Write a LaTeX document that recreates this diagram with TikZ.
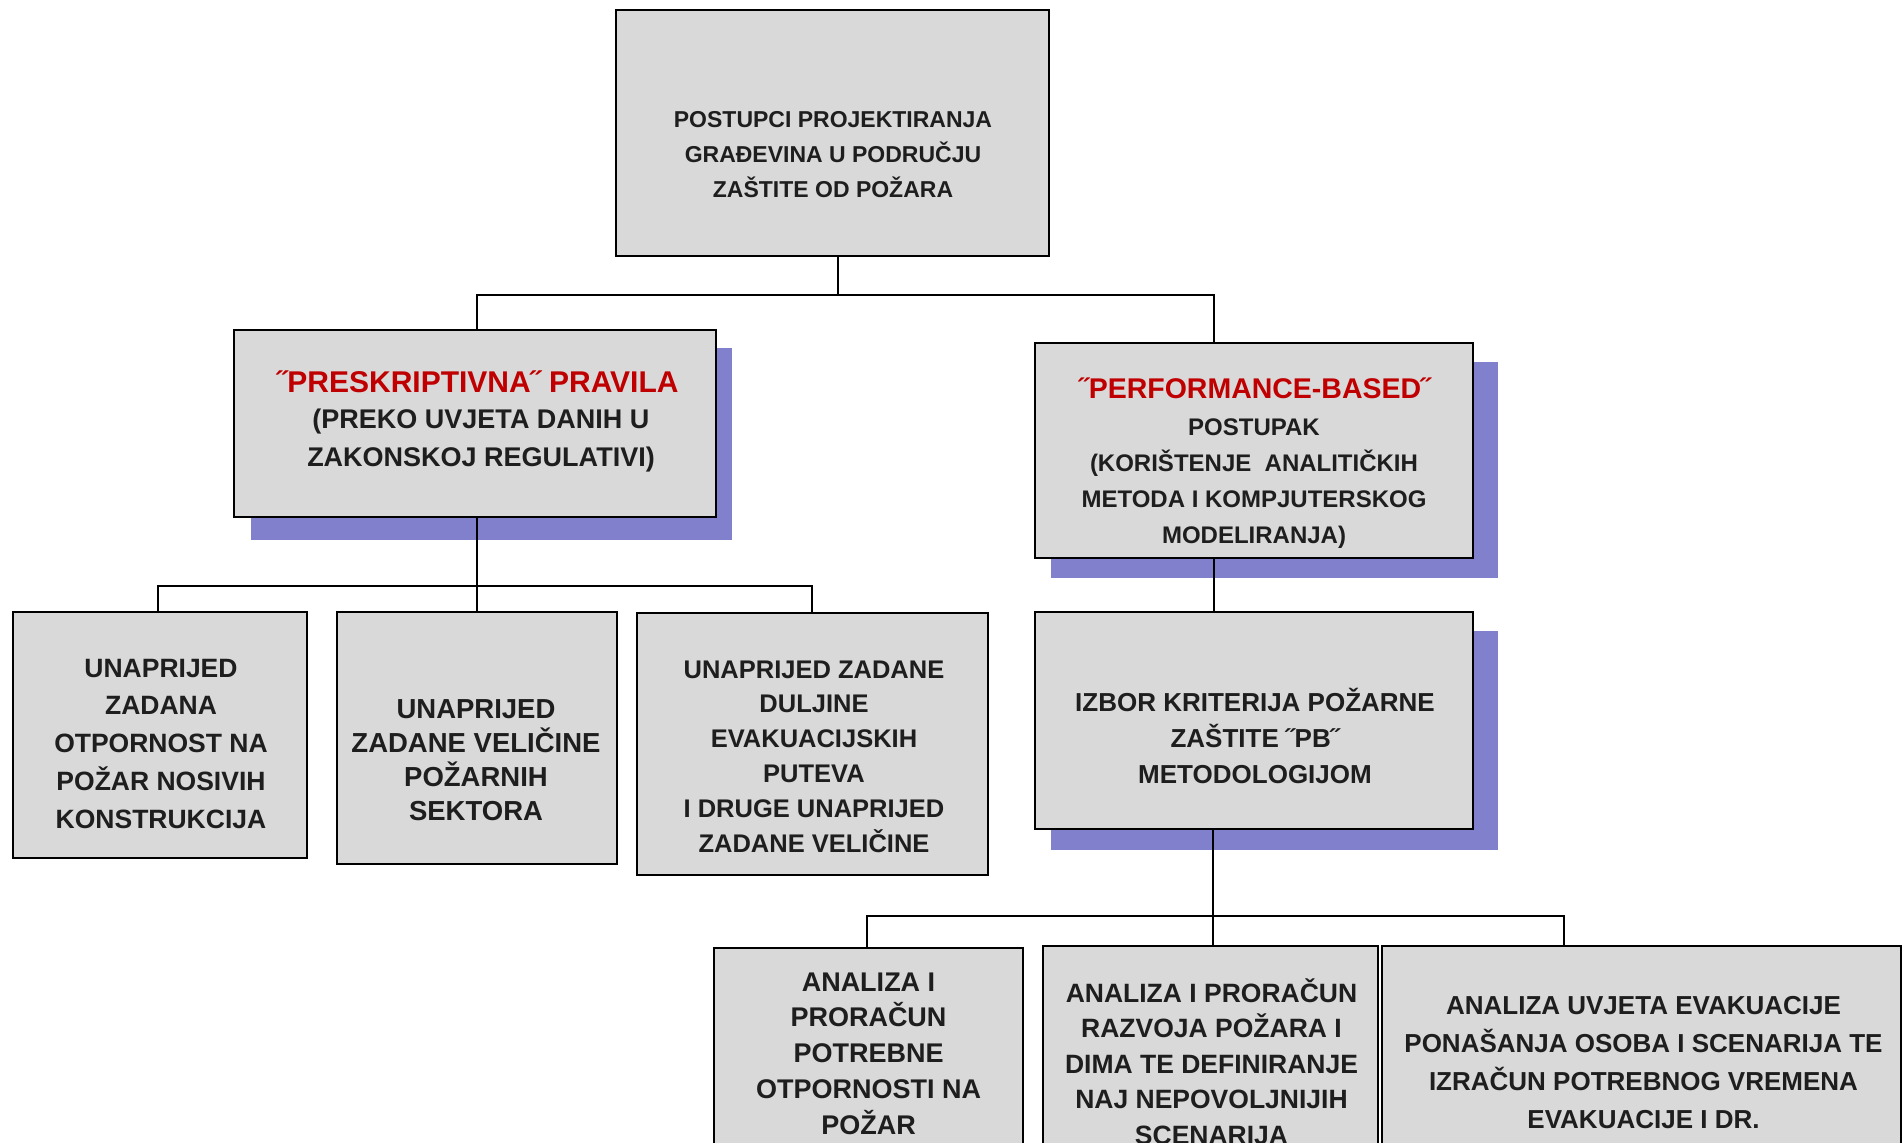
\documentclass[tikz,border=0pt]{standalone}
\usepackage{fontspec}
\setmainfont{Liberation Sans}
\definecolor{boxfill}{HTML}{D9D9D9}
\definecolor{shadowc}{HTML}{8080CC}
\definecolor{redtxt}{HTML}{C00000}
\definecolor{txt}{HTML}{1E1E1E}
\newcommand{\fs}[2]{\fontsize{#1}{#2}\selectfont\bfseries}
\tikzset{
  box/.style={draw=black, fill=boxfill, line width=2.8pt, inner sep=0pt, rectangle},
  lbl/.style={align=center, inner sep=0pt, anchor=base, text=txt},
  conn/.style={draw=black, line width=2.5pt},
}
\begin{document}
\begin{tikzpicture}[x=1pt,y=-1pt]
\useasboundingbox (0,0) rectangle (1904,1143);
\clip (0,0) rectangle (1904,1143);
\fill[white] (0,0) rectangle (1904,1143);
% shadows
\fill[shadowc] (251,348) rectangle (732,540);
\fill[shadowc] (1051,362) rectangle (1498,578);
\fill[shadowc] (1051,631) rectangle (1498,850);
% boxes
\node[box, minimum width=433pt, minimum height=246pt] (top) at (832.5,133) {};
\node[box, minimum width=482pt, minimum height=187pt] (presk) at (475,423.5) {};
\node[box, minimum width=438pt, minimum height=215pt] (perf) at (1254,450.5) {};
\node[box, minimum width=438pt, minimum height=217pt] (izbor) at (1254,720.5) {};
\node[box, minimum width=294pt, minimum height=246pt] (b1) at (160,735) {};
\node[box, minimum width=280pt, minimum height=252pt] (b2) at (477,738) {};
\node[box, minimum width=351pt, minimum height=262pt] (b3) at (812.5,744) {};
\node[box, minimum width=309pt, minimum height=232pt] (ba) at (868.5,1064) {};
\node[box, minimum width=335pt, minimum height=234pt] (bb) at (1210.5,1063) {};
\node[box, minimum width=519pt, minimum height=234pt] (bc) at (1641.5,1063) {};
% junction coordinates
\coordinate (j0) at (838,295);
\coordinate (a1) at (477,295);
\coordinate (a2) at (1214,295);
\coordinate (k0) at (477,586);
\coordinate (k1) at (158,586);
\coordinate (k3) at (812,586);
\coordinate (e0) at (1213,916);
\coordinate (e1) at (867,916);
\coordinate (e3) at (1564,916);
% connectors
\draw[conn] (top.south -| j0) -- (j0);
\draw[conn] (presk.north -| a1) -- (a1) -- (a2) -- (perf.north -| a2);
\draw[conn] (presk.south -| k0) -- (k0);
\draw[conn] (b1.north -| k1) -- (k1) -- (k3) -- (b3.north -| k3);
\draw[conn] (k0) -- (b2.north -| k0);
\draw[conn] (perf.south -| a2) -- (izbor.north -| a2);
\draw[conn] (izbor.south -| e0) -- (e0);
\draw[conn] (ba.north -| e1) -- (e1) -- (e3) -- (bc.north -| e3);
\draw[conn] (e0) -- (bb.north -| e0);
% texts (anchor base = baseline of last line)
\node[lbl, font=\fs{23}{35}] (ttop) at (833,197) {POSTUPCI PROJEKTIRANJA\\GRAĐEVINA U PODRUČJU\\ZAŠTITE OD POŽARA};
\node[lbl, font=\fs{30}{36}, text=redtxt] (tpresk1) at (478,392) {˝PRESKRIPTIVNA˝ PRAVILA};
\node[lbl, font=\fs{27}{38}] (tpresk2) at (481,466) {(PREKO UVJETA DANIH U\\ZAKONSKOJ REGULATIVI)};
\node[lbl, font=\fs{28.5}{36}, text=redtxt] (tperf1) at (1255,398) {˝PERFORMANCE-BASED˝};
\node[lbl, font=\fs{24}{35.7}] (tperf2) at (1254,543) {POSTUPAK\\(KORIŠTENJE~ ANALITIČKIH\\METODA I KOMPJUTERSKOG\\MODELIRANJA)};
\node[lbl, font=\fs{26}{36}] (tizbor) at (1255,783) {IZBOR KRITERIJA POŽARNE\\ZAŠTITE ˝PB˝\\METODOLOGIJOM};
\node[lbl, font=\fs{26.5}{37.75}] (tb1) at (161,828) {UNAPRIJED\\ZADANA\\OTPORNOST NA\\POŽAR NOSIVIH\\KONSTRUKCIJA};
\node[lbl, font=\fs{27.5}{34}] (tb2) at (476,820) {UNAPRIJED\\ZADANE VELIČINE\\POŽARNIH\\SEKTORA};
\node[lbl, font=\fs{25.5}{34.8}] (tb3) at (814,852) {UNAPRIJED ZADANE\\DULJINE\\EVAKUACIJSKIH\\PUTEVA\\I DRUGE UNAPRIJED\\ZADANE VELIČINE};
\node[lbl, font=\fs{27}{35.7}] (tba) at (868.5,1134) {ANALIZA I\\PRORAČUN\\POTREBNE\\OTPORNOSTI NA\\POŽAR};
\node[lbl, font=\fs{26.5}{35.5}] (tbb) at (1211.5,1144) {ANALIZA I PRORAČUN\\RAZVOJA POŽARA I\\DIMA TE DEFINIRANJE\\NAJ NEPOVOLJNIJIH\\SCENARIJA};
\node[lbl, font=\fs{26}{37.7}] (tbc) at (1643.5,1128) {ANALIZA UVJETA EVAKUACIJE\\PONAŠANJA OSOBA I SCENARIJA TE\\IZRAČUN POTREBNOG VREMENA\\EVAKUACIJE I DR.};
\end{tikzpicture}
\end{document}
